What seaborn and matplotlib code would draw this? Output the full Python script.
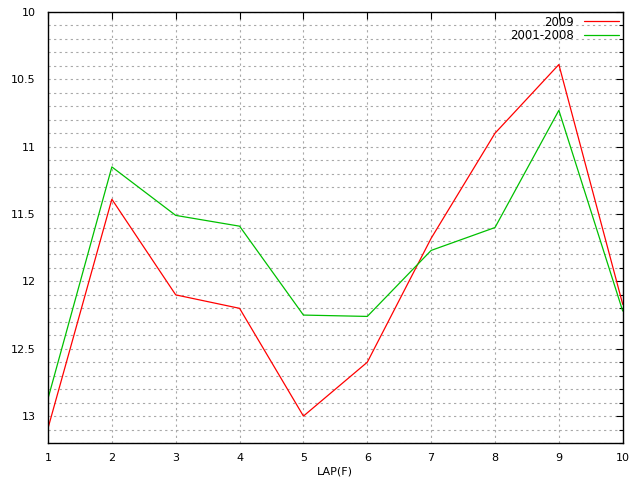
import numpy as np
import pandas as pd
import matplotlib
matplotlib.use("Agg")
import matplotlib.pyplot as plt
from matplotlib.ticker import MultipleLocator
import seaborn as sns

laps = [1, 2, 3, 4, 5, 6, 7, 8, 9, 10]
times_2009 = [13.09, 11.39, 12.10, 12.20, 13.00, 12.60, 11.68, 10.90, 10.39, 12.17]
times_2001_2008 = [12.87, 11.15, 11.51, 11.59, 12.25, 12.26, 11.77, 11.60, 10.73, 12.22]

series_names = ["2009", "2001-2008"]
series_colors = {"2009": "#ff0000", "2001-2008": "#00c000"}

df = pd.DataFrame({
    "lap": laps * 2,
    "time": times_2009 + times_2001_2008,
    "series": [series_names[0]] * len(laps) + [series_names[1]] * len(laps),
})

sns.set_style("white")
plt.rcParams['font.family'] = ['DejaVu Sans']
plt.rcParams['text.color'] = 'black'
plt.rcParams['xtick.color'] = 'black'
plt.rcParams['ytick.color'] = 'black'
plt.rcParams['axes.labelcolor'] = 'black'

fig = plt.figure(figsize=(6.4, 4.8), dpi=100)
ax = fig.add_axes([0.075, 0.077, 0.898, 0.898])

sns.lineplot(data=df, x="lap", y="time", hue="series", hue_order=series_names,
             palette=series_colors, linewidth=0.9, ax=ax)

ax.set_xlim(1, 10)
ax.set_ylim(13.2, 10)
ax.xaxis.set_major_locator(MultipleLocator(1))
ax.yaxis.set_minor_locator(MultipleLocator(0.1))
ax.set_yticks(np.arange(10, 13.01, 0.5))
ax.set_yticklabels(["10", "10.5", "11", "11.5", "12", "12.5", "13"])

grid_kw = dict(color="#a8a8a8", linestyle=(0, (2, 3)), linewidth=0.8)
ax.grid(True, which="major", axis="both", **grid_kw)
ax.grid(True, which="minor", axis="y", **grid_kw)

ax.tick_params(axis="both", which="both", direction="in", top=True, right=True,
               labelsize=8)
ax.tick_params(axis="y", which="major", pad=9)
ax.tick_params(axis="x", which="major", pad=7)
ax.tick_params(which="major", length=5, width=0.8)
ax.tick_params(which="minor", length=3, width=0.8)
for s in ax.spines.values():
    s.set_color("black")
    s.set_linewidth(1)

ax.set_xlabel("LAP(F)", fontsize=8, labelpad=3)
ax.set_ylabel("")

leg = ax.legend(loc="upper right", frameon=False, fontsize=8.5, markerfirst=False,
                handlelength=3, handletextpad=0.8, borderaxespad=0.1,
                borderpad=0.2, labelspacing=0.05)

fig.savefig("out.png", dpi=100)
